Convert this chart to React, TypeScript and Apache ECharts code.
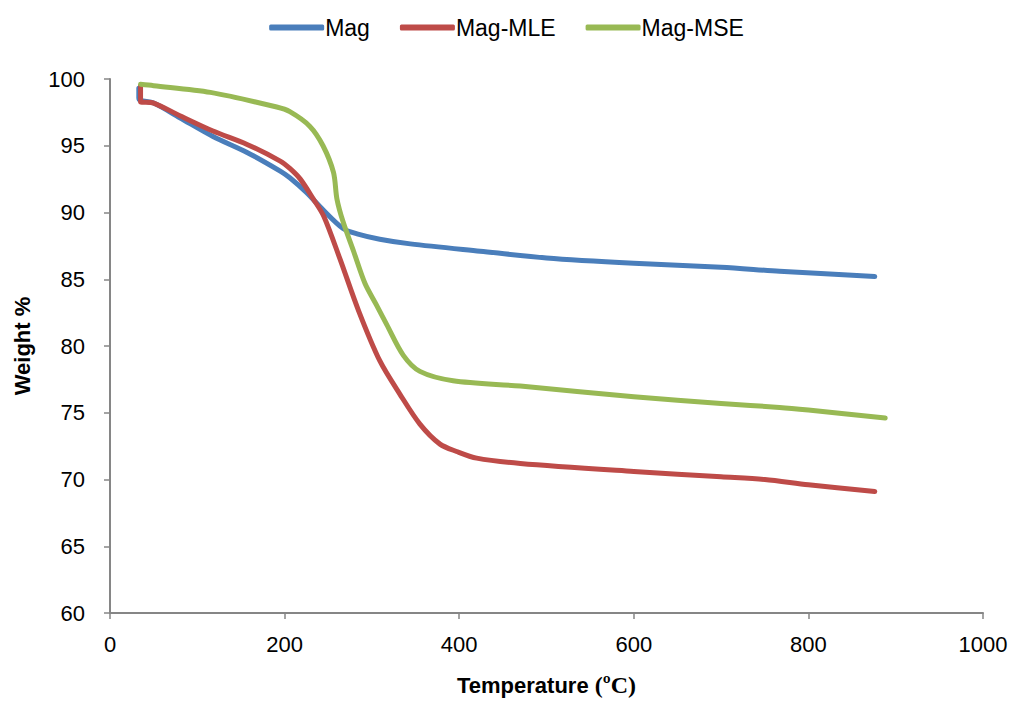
import React, { useEffect, useRef } from "react";
import * as echarts from "echarts";

const magX = [33, 33, 35, 50, 80, 118, 157, 195, 206, 225, 244, 267, 283, 309, 344, 424, 500, 600, 700, 767, 876];
const magY = [99.3, 98.6, 98.4, 98.2, 97.1, 95.7, 94.5, 93.1, 92.6, 91.5, 90.2, 88.8, 88.4, 88.0, 87.65, 87.1, 86.6, 86.2, 85.9, 85.6, 85.2];

const mleX = [35, 35, 50, 80, 118, 157, 195, 206, 218, 233, 245, 263, 285, 309, 332, 355, 378, 397, 420, 470, 600, 700, 750, 800, 876];
const mleY = [99.5, 98.3, 98.2, 97.25, 96.1, 95.1, 93.85, 93.3, 92.5, 91.0, 89.7, 86.6, 82.6, 78.9, 76.4, 74.15, 72.65, 72.1, 71.6, 71.2, 70.6, 70.2, 70.0, 69.6, 69.1];

const mseX = [35, 50, 115, 191, 206, 229, 244, 256, 260, 267, 279, 292, 305, 317, 336, 355, 393, 470, 600, 700, 767, 800, 888];
const mseY = [99.6, 99.5, 99.0, 97.9, 97.55, 96.45, 95.0, 93.0, 91.0, 89.3, 87.1, 84.7, 83.1, 81.6, 79.3, 78.1, 77.4, 77.0, 76.2, 75.7, 75.4, 75.2, 74.6];

const seriesNames = ["Mag", "Mag-MLE", "Mag-MSE"];
const colors = ["#4a7ebb", "#be4b48", "#98b954"];

const pair = (xs: number[], ys: number[]) => xs.map((x, i) => [x, ys[i]]);

export default function App() {
  const ref = useRef<HTMLDivElement>(null);
  useEffect(() => {
    if (!ref.current) return;
    const chart = echarts.init(ref.current, null, { renderer: "svg" });
    const font = "Liberation Sans";
    const datasets = [pair(magX, magY), pair(mleX, mleY), pair(mseX, mseY)];
    chart.setOption({
      animation: false,
      backgroundColor: "#ffffff",
      legend: {
        top: 11,
        left: "center",
        itemWidth: 55,
        itemHeight: 6,
        itemGap: 30,
        icon: "roundRect",
        textStyle: { fontFamily: font, fontSize: 23, color: "#000", padding: [0, 0, 0, -4] },
        data: seriesNames,
      },
      grid: { left: 110, right: 30, top: 79, bottom: 82 },
      xAxis: {
        type: "value",
        min: 0,
        max: 1000,
        interval: 200,
        name: "{a|Temperature }{b|(ºC)}",
        nameLocation: "middle",
        nameGap: 60,
        nameTextStyle: {
          rich: {
            a: { fontFamily: font, fontSize: 22, fontWeight: "bold", color: "#000" },
            b: { fontFamily: "Liberation Serif", fontSize: 24, fontWeight: "bold", color: "#000" },
          },
        },
        axisLine: { lineStyle: { color: "#868686", width: 2 } },
        axisTick: { show: true, length: 6, lineStyle: { color: "#868686", width: 1.5 } },
        splitLine: { show: false },
        axisLabel: {
          fontFamily: font,
          fontSize: 22,
          color: "#000",
          margin: 20,
          formatter: (v: number) => String(v),
        },
      },
      yAxis: {
        type: "value",
        min: 60,
        max: 100,
        interval: 5,
        name: "Weight %",
        nameLocation: "middle",
        nameGap: 77,
        nameTextStyle: { fontFamily: font, fontSize: 22, fontWeight: "bold", color: "#000" },
        axisLine: { show: true, lineStyle: { color: "#868686", width: 2 } },
        axisTick: { show: true, length: 6, lineStyle: { color: "#868686", width: 1.5 } },
        splitLine: { show: false },
        axisLabel: { fontFamily: font, fontSize: 22, color: "#000", margin: 25 },
      },
      series: seriesNames.map((name, i) => ({
        name,
        type: "line",
        data: datasets[i],
        showSymbol: false,
        symbol: "none",
        smooth: 0.3,
        color: colors[i],
        lineStyle: { width: 5, color: colors[i], cap: "round", join: "round" },
      })),
    });
    return () => chart.dispose();
  }, []);
  return (
    <div
      ref={ref}
      style={{ position: "absolute", left: 0, top: 0, width: 1013, height: 702 }}
    />
  );
}
